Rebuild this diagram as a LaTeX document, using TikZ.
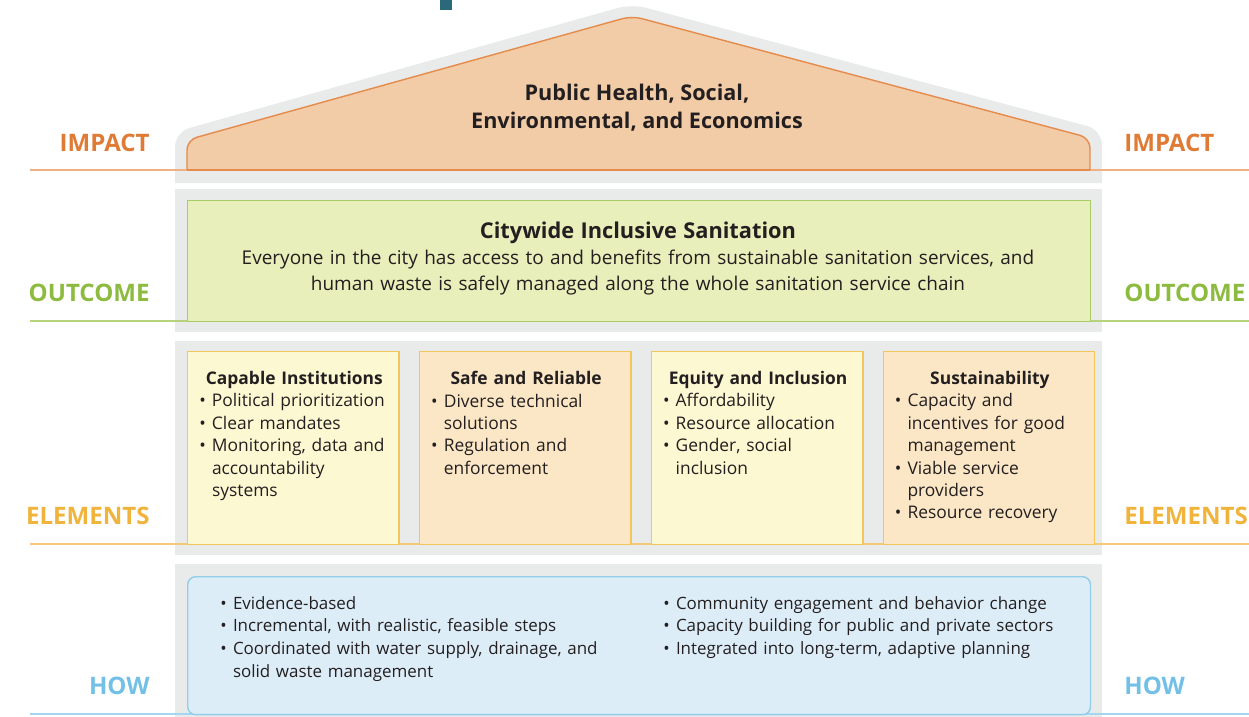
\documentclass[tikz,border=0pt]{standalone}
\usepackage{fontspec}
\setmainfont{Open Sans}
\usetikzlibrary{positioning}

\definecolor{impactorange}{HTML}{E07B36}
\definecolor{impactline}{HTML}{EFB183}
\definecolor{rooffill}{HTML}{F2CBA7}
\definecolor{roofedge}{HTML}{E58C4C}
\definecolor{outcomegreen}{HTML}{8DBB40}
\definecolor{outcomeline}{HTML}{B5D37C}
\definecolor{greenfill}{HTML}{E8EFBA}
\definecolor{greenedge}{HTML}{A8CC66}
\definecolor{elemgold}{HTML}{F0B43C}
\definecolor{elemline}{HTML}{F5C877}
\definecolor{yellowfill}{HTML}{FCF8D2}
\definecolor{peachfill}{HTML}{FBE7C5}
\definecolor{elemedge}{HTML}{F2C55D}
\definecolor{howblue}{HTML}{72C0E6}
\definecolor{howline}{HTML}{A4D6EF}
\definecolor{bluefill}{HTML}{DDEDF8}
\definecolor{blueedge}{HTML}{92CDEA}
\definecolor{housegray}{HTML}{E9EAEA}
\definecolor{textdark}{HTML}{231F20}
\definecolor{markteal}{HTML}{2A6979}

% bullet with hanging indent
\newcommand{\bitem}[1]{\par\hangindent=7.2pt\hangafter=1\noindent\makebox[7.2pt][l]{\textbullet}#1\par}

\tikzset{
  levellabel/.style={inner sep=0pt, font=\fontsize{13.7}{16}\selectfont\bfseries},
  elembox/.style={draw=elemedge, line width=0.8pt, minimum width=4.23cm, minimum height=3.86cm, inner sep=0pt},
  elemtext/.style={anchor=north west, inner sep=0pt, text width=3.8cm, align=left, text=textdark,
    font=\fontsize{9.9}{12.75}\selectfont},
  howtext/.style={anchor=north west, inner sep=0pt, text width=8.4cm, align=left, text=textdark,
    font=\fontsize{9.65}{12.9}\selectfont}
}

\begin{document}
\begin{tikzpicture}[x=0.02cm,y=-0.02cm]
\useasboundingbox (0,0) rectangle (1249,717);

% little mark at the top
\fill[markteal] (440,0) rectangle (452,10);

% gray house behind the levels
\fill[housegray, rounded corners=0.3cm] (175,183) -- (175,132) -- (632,4) -- (1102,130) -- (1102,183);
\fill[housegray] (175,189) rectangle (1102,332);
\fill[housegray] (175,341) rectangle (1102,555);
\fill[housegray] (175,564) rectangle (1102,717);

% level lines
\draw[impactline, line width=0.9pt] (30,170) -- (1249,170);
\draw[outcomeline, line width=0.9pt] (30,321) -- (1249,321);
\draw[elemline, line width=0.9pt] (30,544) -- (1249,544);
\draw[howline, line width=0.9pt] (30,714) -- (1249,714);

% roof
\filldraw[fill=rooffill, draw=roofedge, line width=0.8pt, rounded corners=0.2cm]
  (187,170) -- (187,140) -- (632,16) -- (1090,138) -- (1090,170);
\draw[roofedge, line width=0.9pt] (187,170) -- (1090,170);
\node[align=center, text=textdark, font=\fontsize{12.3}{15.9}\selectfont\bfseries] (impact) at (637,108)
  {Public Health, Social,\\Environmental, and Economics};

% outcome
\node[draw=greenedge, fill=greenfill, line width=0.8pt, anchor=north west, minimum width=18.06cm,
  minimum height=2.42cm, inner sep=0pt] (outcome) at (187,200) {};
\node[anchor=north, inner sep=0pt, text width=17cm, align=center, text=textdark,
  font=\fontsize{10.8}{14.7}\selectfont] (outcometxt) at (638,222)
  {{\fontsize{12.4}{15}\selectfont\bfseries Citywide Inclusive Sanitation\par}
   Everyone in the city has access to and benefits from sustainable sanitation services, and\\
   human waste is safely managed along the whole sanitation service chain};

% elements
\node[elembox, fill=yellowfill, anchor=north west] (capable) at (187,351) {};
\node[elembox, fill=peachfill, right=0.38cm of capable] (safe) {};
\node[elembox, fill=yellowfill, right=0.38cm of safe] (equity) {};
\node[elembox, fill=peachfill, right=0.38cm of equity] (sustain) {};

\node[elemtext] (capabletxt) at ([shift={(12,20)}]capable.north west)
  {{\centering\bfseries Capable Institutions\par}
   \bitem{Political prioritization}
   \bitem{Clear mandates}
   \bitem{Monitoring, data and\newline accountability\newline systems}};
\node[elemtext] (safetxt) at ([shift={(12,20)}]safe.north west)
  {{\centering\bfseries Safe and Reliable\par}
   \bitem{Diverse technical\newline solutions}
   \bitem{Regulation and\newline enforcement}};
\node[elemtext] (equitytxt) at ([shift={(12,20)}]equity.north west)
  {{\centering\bfseries Equity and Inclusion\par}
   \bitem{Affordability}
   \bitem{Resource allocation}
   \bitem{Gender, social\newline inclusion}};
\node[elemtext] (sustaintxt) at ([shift={(12,20)}]sustain.north west)
  {{\centering\bfseries Sustainability\par}
   \bitem{Capacity and\newline incentives for good\newline management}
   \bitem{Viable service\newline providers}
   \bitem{Resource recovery}};

% how
\node[draw=blueedge, fill=bluefill, line width=0.8pt, rounded corners=0.16cm, anchor=north west,
  minimum width=18.06cm, minimum height=2.76cm, inner sep=0pt] (how) at (187,576) {};
\node[howtext] (howleft) at (220,586)
  {\bitem{Evidence-based}
   \bitem{Incremental, with realistic, feasible steps}
   \bitem{Coordinated with water supply, drainage, and\newline solid waste management}};
\node[howtext] (howright) at (663,586)
  {\bitem{Community engagement and behavior change}
   \bitem{Capacity building for public and private sectors}
   \bitem{Integrated into long-term, adaptive planning}};

% level labels
\node[levellabel, text=impactorange, anchor=east] (impactL) at (150,143) {IMPACT};
\node[levellabel, text=impactorange, anchor=west] (impactR) at (1124,143) {IMPACT};
\node[levellabel, text=outcomegreen, anchor=east] (outcomeL) at (150,293) {OUTCOME};
\node[levellabel, text=outcomegreen, anchor=west] (outcomeR) at (1124,293) {OUTCOME};
\node[levellabel, text=elemgold, anchor=east] (elemL) at (150,516) {ELEMENTS};
\node[levellabel, text=elemgold, anchor=west] (elemR) at (1124,516) {ELEMENTS};
\node[levellabel, text=howblue, anchor=east] (howL) at (150,686) {HOW};
\node[levellabel, text=howblue, anchor=west] (howR) at (1124,686) {HOW};
\end{tikzpicture}
\end{document}
